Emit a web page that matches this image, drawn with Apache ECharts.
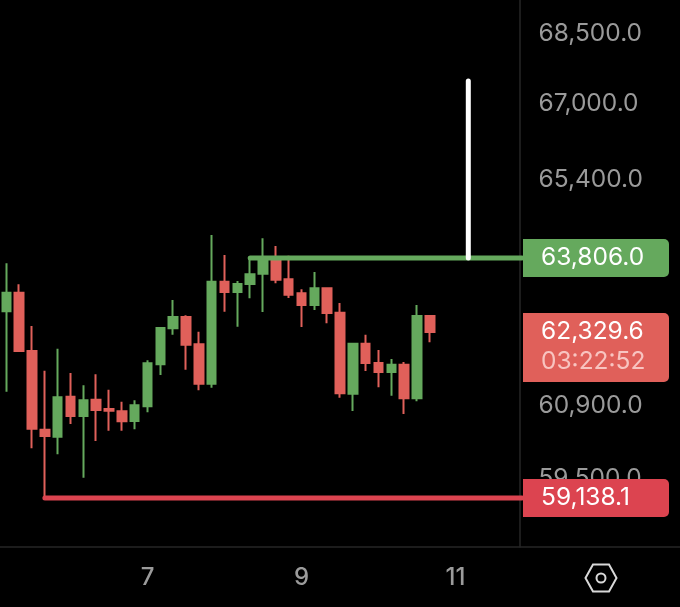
<!DOCTYPE html>
<html><head><meta charset="utf-8">
<style>html,body{margin:0;padding:0;background:#000}#c{width:680px;height:607px}</style>
<script src="https://cdn.jsdelivr.net/npm/echarts@6/dist/echarts.min.js"></script>
</head><body><div id="c"></div>
<script>
const categories = ['','','','','','','','','','','','7','','','','','','','','','','','','9','','','','','','','','','','','','11','','','','','','','','','','','','','','','','',''];
const opens  = [62739,63109,61954,60430,60297,61066,60693,61008,60828,60783,60597,60880,61695,62402,62626,62086,61317,63329,63123,63283,63490,63766,63377,63097,62864,63197,62711,61124,62098,61720,61545,61687,61035,62646];
const closes = [63109,61954,60450,60310,61054,60693,60996,60809,60795,60592,60899,61715,62408,62626,62079,61317,63329,63123,63283,63478,63780,63369,63070,62864,63197,62705,61132,62098,61720,61545,61687,61035,62646,62329.6];
const lows   = [61163,61954,60076,59138.1,59962,60540,59520,60215,60411,60411,60438,60765,61486,62276,61590,61190,61240,62731,62434,62998,62725,63297,63004,62428,62764,62501,61047,60790,61565,61248,61085,60732,60977,62126];
const highs  = [63699,63277,62448,61570,61999,61526,61286,61500,61201,60969,60996,61773,62422,62964,62659,62335,64272,63867,63343,63806,64205,64049,63852,63177,63525,63209,62904,62106,62276,61974,61799,61740,62864,62659];
const priceTicks = [68500,67000,65400,60900,59500];
const axisMin = 58228, axisMax = 69236;
const highLevel = 63806.0, highLevelIdx = 19;
const lowLevel = 59138.1, lowLevelIdx = 3;
const lastPrice = 62329.6, countdown = '03:22:52';
const markerIdx = 36, markerTop = 67484;

const GREEN='#65a95d', RED='#e0605a', LOWRED='#dc4450';
const FONT='Inter, Roboto, sans-serif';
const fmt=v=>v.toLocaleString('en-US',{minimumFractionDigits:1,maximumFractionDigits:1});
const AXIS_X=522, LABEL_X=541, PILL_R=669;

function pill(y,top,bottom,fill,lines){
  const ch=[{type:'rect',shape:{x:AXIS_X+1,y:y-top,width:PILL_R-AXIS_X-1,height:top+bottom,r:[0,5,5,0]},style:{fill:fill}}];
  lines.forEach(l=>ch.push({type:'text',style:{x:LABEL_X,y:y+l.dy,text:l.t,fill:l.c,font:'400 24.5px '+FONT,textAlign:'left',textVerticalAlign:'middle'}}));
  return ch;
}
function renderAnno(params,api){
  const kind=api.value(2);
  const p=api.coord([api.value(0),api.value(1)]);
  if(kind===0){
    return {type:'group',children:[{type:'line',shape:{x1:p[0],y1:p[1],x2:AXIS_X,y2:p[1]},style:{stroke:GREEN,lineWidth:5,lineCap:'round'}}].concat(pill(p[1],19,19,GREEN,[{t:fmt(highLevel),dy:0,c:'#fff'}]))};
  }
  if(kind===1){
    return {type:'group',children:[{type:'line',shape:{x1:p[0],y1:p[1],x2:AXIS_X,y2:p[1]},style:{stroke:LOWRED,lineWidth:5,lineCap:'round'}}].concat(pill(p[1],19,19,LOWRED,[{t:fmt(lowLevel),dy:0,c:'#fff'}]))};
  }
  if(kind===2){
    return {type:'group',children:pill(p[1],19,50,RED,[{t:fmt(lastPrice),dy:0,c:'#fff'},{t:countdown,dy:30,c:'#f8c4c0'}])};
  }
  const q=api.coord([api.value(0),markerTop]);
  return {type:'line',shape:{x1:p[0],y1:p[1],x2:q[0],y2:q[1]},style:{stroke:'#fff',lineWidth:5,lineCap:'round'}};
}

const chart=echarts.init(document.getElementById('c'),null,{renderer:'canvas'});
const candle=opens.map((o,i)=>[o,closes[i],lows[i],highs[i]]);
chart.setOption({
  animation:false,
  backgroundColor:'#000',
  grid:{left:-1.15,top:0,width:683.7,height:547,containLabel:false},
  xAxis:{type:'category',data:categories,boundaryGap:true,
    axisLine:{show:true,lineStyle:{color:'#262626',width:1.5}},axisTick:{show:false},splitLine:{show:false},
    axisLabel:{interval:0,margin:19,color:'#9b9b9b',fontFamily:FONT,fontSize:24,fontWeight:500}},
  yAxis:{type:'log',logBase:10,min:axisMin,max:axisMax,position:'right',offset:-160.55,scale:true,
    axisLine:{show:true,lineStyle:{color:'#262626',width:1.5}},axisTick:{show:false},splitLine:{show:false},minorTick:{show:false},minorSplitLine:{show:false},
    axisLabel:{customValues:priceTicks,margin:19,color:'#9a9a9a',fontFamily:FONT,fontSize:24.5,padding:[0,0,4,0],
      formatter:v=>fmt(Math.round(v))}},
  series:[
    {type:'candlestick',data:candle,barWidth:9,z:3,
      itemStyle:{color:GREEN,color0:RED,borderColor:GREEN,borderColor0:RED,borderWidth:2,borderColorDoji:RED}},
    {type:'custom',z:6,clip:false,silent:true,renderItem:renderAnno,
      encode:{x:0,y:1},
      data:[[highLevelIdx,highLevel,0],[lowLevelIdx,lowLevel,1],[33,lastPrice,2],[markerIdx,highLevel,3]]}
  ],
  graphic:[
    {type:'polygon',z:10,shape:{points:[[585.5,578],[593,564.5],[609,564.5],[616.5,578],[609,591.5],[593,591.5]]},style:{fill:'none',stroke:'#d8d8d8',lineWidth:2}},
    {type:'circle',z:10,shape:{cx:601,cy:578,r:4.5},style:{fill:'none',stroke:'#d8d8d8',lineWidth:2}}
  ]
});
</script></body></html>
